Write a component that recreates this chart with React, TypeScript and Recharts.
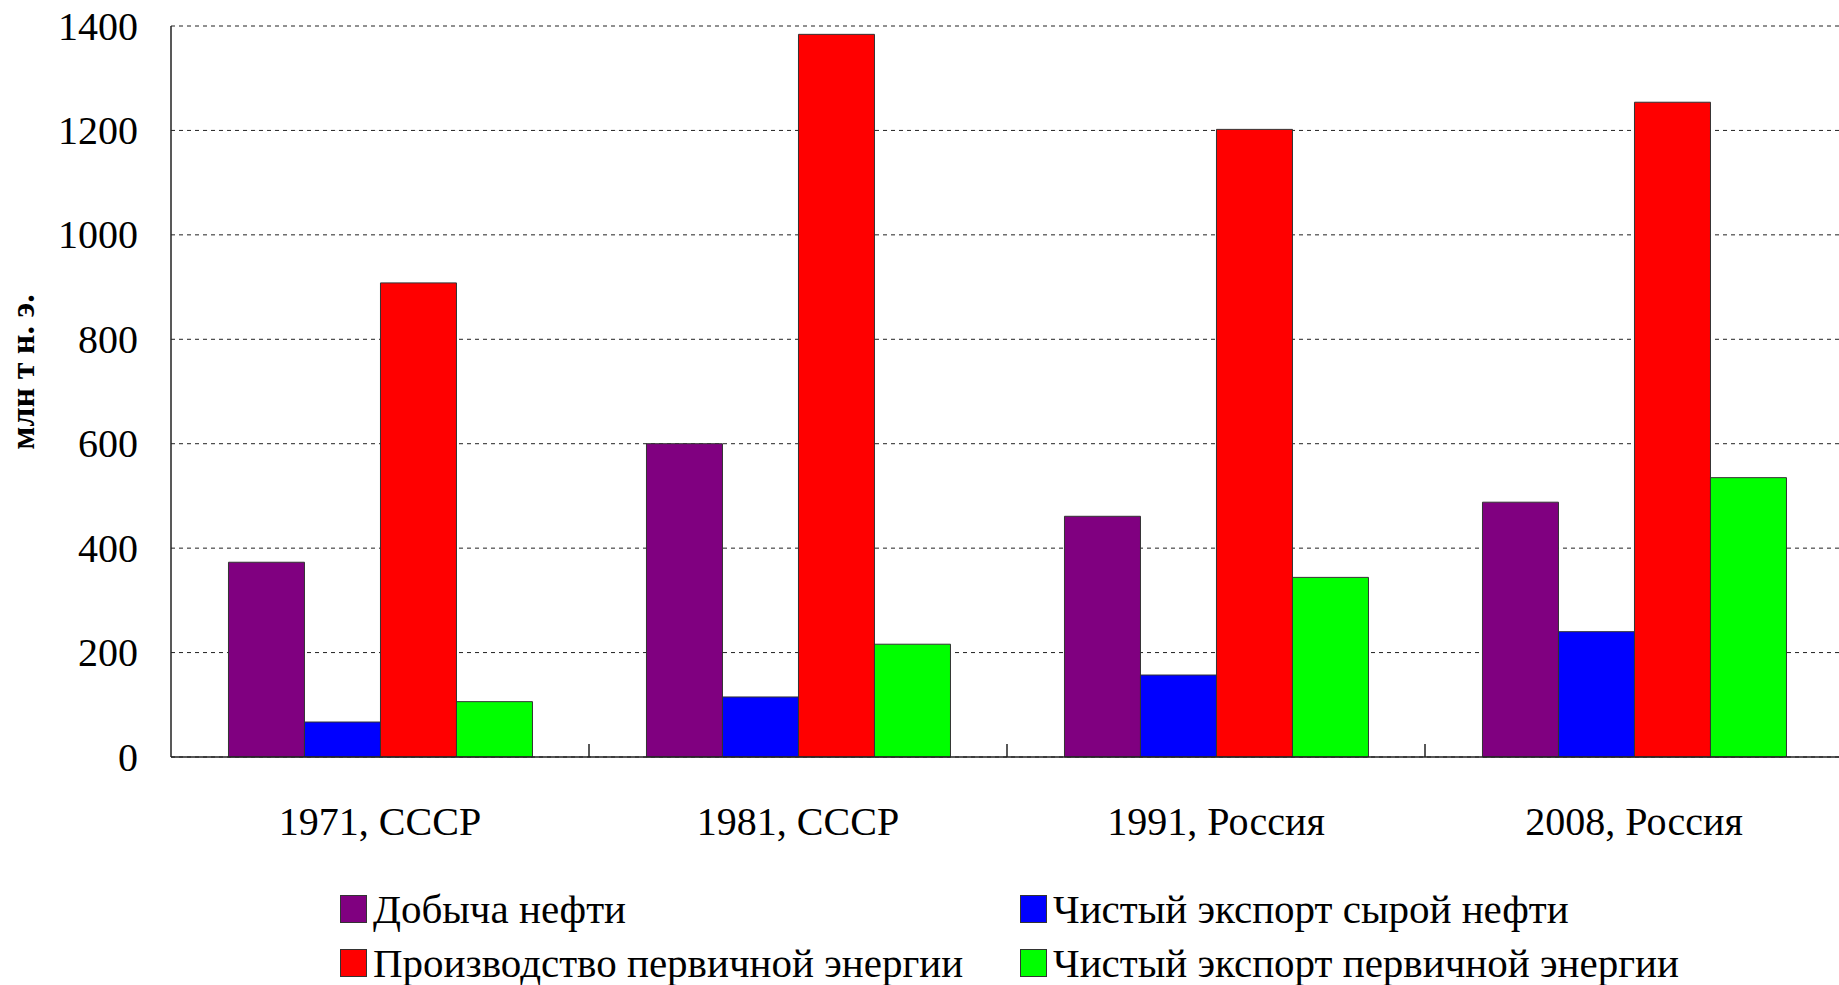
import React from "react";
import { Bar, BarChart, CartesianGrid, XAxis, YAxis } from "recharts";

const categories = ["1971, СССР", "1981, СССР", "1991, Россия", "2008, Россия"];
const oilProduction = [373, 600, 461, 488];
const crudeExport = [67, 115, 157, 240];
const primaryProduction = [908, 1384, 1202, 1254];
const primaryExport = [106, 216, 344, 535];
const yTicks = [0, 200, 400, 600, 800, 1000, 1200, 1400];

const seriesNames = [
  "Добыча нефти",
  "Чистый экспорт сырой нефти",
  "Производство первичной энергии",
  "Чистый экспорт первичной энергии",
];
const seriesColors = ["#800080", "#0000ff", "#ff0000", "#00ff00"];
const seriesKeys = ["oil", "crude", "primary", "primaryExport"];

const data = categories.map((name, i) => ({
  name,
  oil: oilProduction[i],
  crude: crudeExport[i],
  primary: primaryProduction[i],
  primaryExport: primaryExport[i],
}));

const FONT = '"Liberation Serif", "Times New Roman", serif';
const CHART_W = 1843;
const CHART_H = 985;
const Y_W = 171;
const BAND = (CHART_W - Y_W) / categories.length;

function XTick(props: any) {
  const { x, y, payload, index } = props;
  return (
    <g>
      <text
        x={x}
        y={y + 64}
        textAnchor="middle"
        dominantBaseline="central"
        fontFamily={FONT}
        fontSize={40}
        fill="#000"
      >
        {payload.value}
      </text>
      {index < categories.length - 1 && (
        <line x1={x + BAND / 2} x2={x + BAND / 2} y1={y} y2={y - 13} stroke="#222" strokeWidth={1.5} />
      )}
    </g>
  );
}

function YTick(props: any) {
  const { x, y, payload } = props;
  return (
    <text
      x={x}
      y={y}
      textAnchor="end"
      dominantBaseline="central"
      fontFamily={FONT}
      fontSize={40}
      fill="#000"
    >
      {payload.value}
    </text>
  );
}

function YTitle() {
  return (
    <text
      x={22}
      y={372}
      transform="rotate(-90, 22, 372)"
      textAnchor="middle"
      dominantBaseline="central"
      fontFamily={FONT}
      fontSize={34}
      fontWeight="bold"
      fill="#000"
    >
      млн т н. э.
    </text>
  );
}

const legendPos = [
  { left: 340, top: 894 },
  { left: 1020, top: 894 },
  { left: 340, top: 948 },
  { left: 1020, top: 948 },
];

export default function App() {
  return (
    <div style={{ position: "absolute", left: 0, top: 0, width: 1839, height: CHART_H, overflow: "hidden", background: "#fff" }}>
      <BarChart
        width={CHART_W}
        height={CHART_H}
        data={data}
        margin={{ top: 26, right: 0, bottom: 0, left: 0 }}
        barCategoryGap="13.75%"
        barGap={0}
      >
        <CartesianGrid vertical={false} stroke="#222" strokeDasharray="4 4" />
        <XAxis
          dataKey="name"
          height={228}
          tickLine={false}
          tickSize={0}
          tickMargin={0}
          axisLine={{ stroke: "#222", strokeWidth: 1.5 }}
          tick={<XTick />}
        />
        <YAxis
          width={Y_W}
          domain={[0, 1400]}
          ticks={yTicks}
          tickLine={false}
          tickSize={0}
          tickMargin={33}
          axisLine={{ stroke: "#222", strokeWidth: 1.5 }}
          tick={<YTick />}
          label={<YTitle />}
        />
        {seriesKeys.map((k, i) => (
          <Bar
            key={k}
            dataKey={k}
            name={seriesNames[i]}
            fill={seriesColors[i]}
            stroke="#333"
            strokeWidth={1}
            isAnimationActive={false}
          />
        ))}
      </BarChart>
      {seriesNames.map((n, i) => (
        <div
          key={n}
          style={{
            position: "absolute",
            left: legendPos[i].left,
            top: legendPos[i].top,
            display: "flex",
            alignItems: "center",
            fontFamily: FONT,
            fontSize: 41,
            lineHeight: "30px",
            color: "#000",
            whiteSpace: "nowrap",
          }}
        >
          <span
            style={{
              display: "inline-block",
              width: 25,
              height: 26,
              background: seriesColors[i],
              border: "1px solid #333",
              marginRight: 6,
            }}
          />
          {n}
        </div>
      ))}
    </div>
  );
}
